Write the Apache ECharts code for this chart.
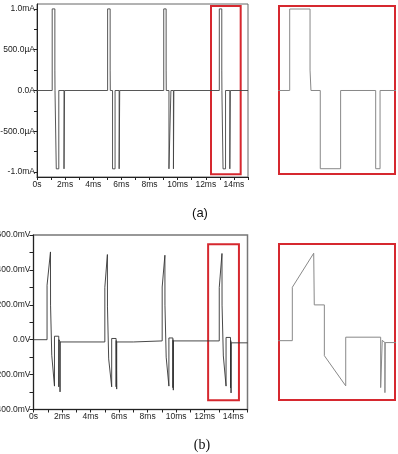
<!DOCTYPE html>
<html>
<head>
<meta charset="utf-8">
<script src="https://cdn.jsdelivr.net/npm/echarts@6/dist/echarts.min.js"></script>
<style>
  html,body{margin:0;padding:0;background:#fff;}
  #chart{width:398px;height:454px;}
</style>
</head>
<body>
<div id="chart"></div>
<script>
// ---- (a) current waveform: [time ms, current mA] ----
const currentTrace = [
  [0,0],
  [1.08,0],[1.08,1.0],[1.27,1.0],[1.27,0.25],[1.28,0],
  [1.37,0],[1.37,-0.96],[1.55,-0.96],[1.55,0],
  [1.92,0],[1.92,-0.96],[1.96,-0.96],[1.96,0],
  [5.02,0],[5.02,1.0],[5.20,1.0],[5.20,0.25],[5.21,0],
  [5.37,0],[5.37,-0.96],[5.55,-0.96],[5.55,0],
  [5.84,0],[5.84,-0.96],[5.88,-0.96],[5.88,0],
  [9.01,0],[9.01,1.0],[9.18,1.0],[9.18,0.25],[9.19,0],
  [9.38,0],[9.38,-0.96],[9.52,-0.96],[9.52,0],
  [9.70,0],[9.70,-0.96],[9.73,-0.96],[9.73,0],
  [12.96,0],[12.96,1.0],[13.137,1.0],[13.137,0.25],[13.145,0],
  [13.226,0],[13.226,-0.96],[13.403,-0.96],[13.403,0],
  [13.708,0],[13.708,-0.96],[13.746,-0.96],[13.746,0],
  [15,0]
];

// ---- (b) voltage waveform: [time ms, voltage mV] ----
const voltageTrace = [
  [0,0],
  [0.95,0],[0.95,312],[1.19,503],[1.195,198],[1.28,198],[1.28,-89],[1.47,-266],
  [1.47,20],[1.77,20],[1.77,-270],[1.785,-280],[1.785,0],[1.86,-13],[1.86,-299],[1.865,-13],
  [5.00,-13],[5.00,300],[5.18,488],[5.185,188],[5.27,188],[5.27,-110],[5.48,-270],
  [5.48,7],[5.79,7],[5.79,-270],[5.80,-278],[5.80,-5],[5.83,-13],[5.83,-283],[5.835,-13],
  [7.00,-13],[7.00,-7],
  [9.02,-7],[9.02,302],[9.21,484],[9.215,198],[9.30,198],[9.30,-100],[9.49,-266],
  [9.49,10],[9.77,10],[9.77,-275],[9.78,-282],[9.78,0],[9.80,-7],[9.80,-289],[9.805,-7],
  [13.02,-7],[13.02,299],[13.211,494],[13.216,198],[13.306,198],[13.306,-93],[13.497,-266],
  [13.497,13],[13.809,13],[13.809,-276],[13.823,-285],[13.823,-5],[13.847,-18],[13.847,-305],[13.849,-18],
  [15,-18]
];

// axis ticks / labels
const timeLabelValues = [0,2,4,6,8,10,12,14];
const timeLabels = ['0s','2ms','4ms','6ms','8ms','10ms','12ms','14ms'];
const curLabelValues = [1,0.5,0,-0.5,-1];
const curLabels = ['1.0mA','500.0µA','0.0A','-500.0µA','-1.0mA'];
const curTickValues = [-1,-0.75,-0.5,-0.25,0,0.25,0.5,0.75,1];
const voltLabelValues = [600,400,200,0,-200,-400];
const voltLabels = ['600.0mV','400.0mV','200.0mV','0.0V','-200.0mV','-400.0mV'];

// highlighted windows [t0, t1, vLow, vHigh] and inset time ranges
const boxA = [12.37, 14.48, -1.025, 1.037];
const boxB = [12.24, 14.40, -347, 547];
const insetTimeA = [12.867, 13.876];
const insetTimeB = [12.901, 13.937];

const RED = '#d6282f';
const INK = '#222';
const FONT = 'Liberation Sans';

function labelFrom(values, labels){
  return v => { const i = values.findIndex(x => Math.abs(x - v) < 1e-6); return i < 0 ? '' : labels[i]; };
}

function mainX(gridIndex){
  return {
    type:'value', gridIndex, min:0, max:15, interval:1,
    axisLine:{ show:true, onZero:false, lineStyle:{ color:INK, width:1 } },
    axisTick:{ show:true, length:3, lineStyle:{ color:INK } },
    axisLabel:{ customValues:timeLabelValues, formatter:labelFrom(timeLabelValues, timeLabels),
      color:INK, fontSize:8.5, fontFamily:FONT, margin:3 },
    splitLine:{ show:false }
  };
}
function hiddenAxis(gridIndex, min, max){
  return { type:'value', gridIndex, min, max, show:false, splitLine:{show:false} };
}
function markBox(b){
  return {
    silent:true,
    itemStyle:{ color:'rgba(0,0,0,0)', borderColor:RED, borderWidth:2 },
    data:[[ { coord:[b[0], b[3]] }, { coord:[b[1], b[2]] } ]]
  };
}

const chart = echarts.init(document.getElementById('chart'));
chart.setOption({
  animation:false,
  backgroundColor:'#fff',
  grid:[
    { left:37, top:4, width:211, height:173, show:true, borderColor:'#666', borderWidth:1, outerBoundsMode:'none' },
    { left:33.5, top:235, width:214, height:174.5, show:true, borderColor:'#777', borderWidth:1.5, outerBoundsMode:'none' },
    { left:279, top:6, width:116, height:168, show:true, borderColor:RED, borderWidth:2, outerBoundsMode:'none' },
    { left:279, top:244, width:116, height:156, show:true, borderColor:RED, borderWidth:2, outerBoundsMode:'none' }
  ],
  xAxis:[
    mainX(0),
    mainX(1),
    hiddenAxis(2, insetTimeA[0], insetTimeA[1]),
    hiddenAxis(3, insetTimeB[0], insetTimeB[1])
  ],
  yAxis:[
    {
      type:'value', gridIndex:0, min:-1.06, max:1.06,
      axisLine:{ show:true, onZero:false, lineStyle:{ color:INK, width:1 } },
      axisTick:{ show:true, length:3, customValues:curTickValues, lineStyle:{ color:INK } },
      axisLabel:{ customValues:curLabelValues, formatter:labelFrom(curLabelValues, curLabels),
        color:INK, fontSize:8.5, fontFamily:FONT, margin:2 },
      splitLine:{ show:false }
    },
    {
      type:'value', gridIndex:1, min:-400, max:600, interval:100,
      axisLine:{ show:true, onZero:false, lineStyle:{ color:INK, width:1 } },
      axisTick:{ show:true, length:4, lineStyle:{ color:INK } },
      axisLabel:{ customValues:voltLabelValues, formatter:labelFrom(voltLabelValues, voltLabels),
        color:INK, fontSize:8.5, fontFamily:FONT, margin:3 },
      splitLine:{ show:false }
    },
    hiddenAxis(2, boxA[2], boxA[3]),
    hiddenAxis(3, boxB[2], boxB[3])
  ],
  series:[
    { type:'line', xAxisIndex:0, yAxisIndex:0, data:currentTrace, showSymbol:false,
      lineStyle:{ color:'#444', width:0.9 }, markArea:markBox(boxA), z:2 },
    { type:'line', xAxisIndex:1, yAxisIndex:1, data:voltageTrace, showSymbol:false,
      lineStyle:{ color:'#333', width:0.9 }, markArea:markBox(boxB), z:2 },
    { type:'line', xAxisIndex:2, yAxisIndex:2, data:currentTrace, showSymbol:false,
      lineStyle:{ color:'#888', width:1 }, z:1 },
    { type:'line', xAxisIndex:3, yAxisIndex:3, data:voltageTrace, showSymbol:false,
      lineStyle:{ color:'#888', width:1 }, z:1 }
  ],
  graphic:[
    { type:'text', x:200, y:213, style:{ text:'(a)', fill:'#111', font:'13px "Liberation Sans"', align:'center', verticalAlign:'middle' } },
    { type:'text', x:202, y:445, style:{ text:'(b)', fill:'#111', font:'14px "Liberation Serif"', align:'center', verticalAlign:'middle' } }
  ]
});
</script>
</body>
</html>
